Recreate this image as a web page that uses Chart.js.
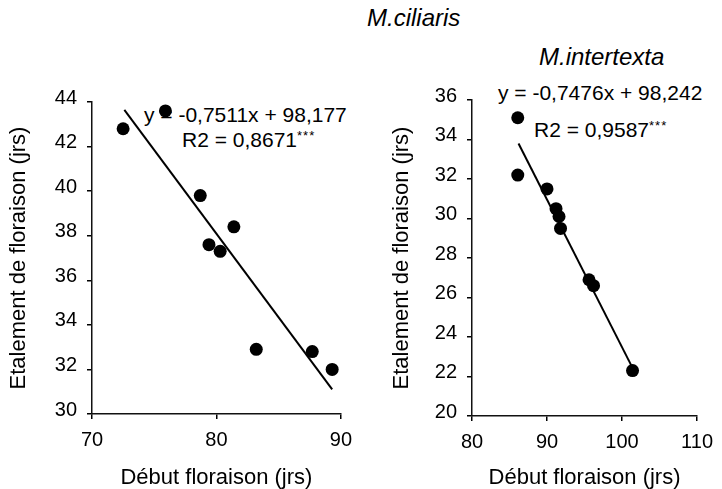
<!DOCTYPE html>
<html>
<head>
<meta charset="utf-8">
<script src="https://cdn.jsdelivr.net/npm/chart.js@4.4.1/dist/chart.umd.min.js"></script>
<style>
  html, body { margin: 0; padding: 0; background: #fff; }
  #wrap { position: relative; width: 722px; height: 489px; overflow: hidden;
          font-family: "Liberation Sans", Arial, sans-serif; color: #000; }
  .txt { position: absolute; white-space: nowrap; line-height: 1; }
  .eq { font-size: 21px; }
  .sp { font-size: 24px; font-style: italic; }
  .stars { font-size: 13px; vertical-align: 7px; letter-spacing: 1px; }
  .box { position: absolute; top: 0; width: 361px; height: 489px; }
</style>
</head>
<body>
<div id="wrap">
  <!-- species titles and regression equations (under the canvases, points may cover them) -->
  <div class="txt sp" style="left:367px; top:6px;">M.ciliaris</div>
  <div class="txt sp" style="left:539px; top:45px;">M.intertexta</div>
  <div class="txt eq" style="left:144px; top:104px;">y = -0,7511x + 98,177</div>
  <div class="txt eq" style="left:182px; top:129px;">R2 = 0,8671<span class="stars">***</span></div>
  <div class="txt eq" style="left:498px; top:82px;">y = -0,7476x + 98,242</div>
  <div class="txt eq" style="left:534px; top:119px;">R2 = 0,9587<span class="stars">***</span></div>

  <div class="box" style="left:0;"><canvas id="chartCiliaris" width="361" height="489"></canvas></div>
  <div class="box" style="left:361px;"><canvas id="chartIntertexta" width="361" height="489"></canvas></div>
</div>

<script>
// M.ciliaris : debut floraison (x) vs etalement (y)
const ciliarisX = [72.5, 75.9, 78.7, 79.4, 80.3, 81.4, 83.2, 87.7, 89.3];
const ciliarisY = [42.8, 43.6, 39.8, 37.6, 37.3, 38.4, 32.9, 32.8, 32.0];
const ciliarisFitX = [72.6, 89.3];
const ciliarisSlope = -0.7511;
const ciliarisIntercept = 98.177;
const ciliarisXTicks = [70, 80, 90];
const ciliarisYTicks = [30, 32, 34, 36, 38, 40, 42, 44];

// M.intertexta
const intertextaX = [86.1, 86.1, 90.0, 91.2, 91.6, 91.8, 95.6, 96.2, 101.4];
const intertextaY = [35.1, 32.2, 31.5, 30.5, 30.1, 29.5, 26.9, 26.6, 22.3];
const intertextaFitX = [86.2, 101.4];
const intertextaSlope = -0.7476;
const intertextaIntercept = 98.242;
const intertextaXTicks = [80, 90, 100, 110];
const intertextaYTicks = [20, 22, 24, 26, 28, 30, 32, 34, 36];

const xTitle = "Début floraison (jrs)";
const yTitle = "Etalement de floraison (jrs)";

Chart.defaults.color = "#000";
Chart.defaults.font.family = '"Liberation Sans", Arial, sans-serif';

function axisStyle() {
  return {
    grid: { display: true, drawOnChartArea: false, drawTicks: true, tickLength: 5, color: "#000", lineWidth: 1.5 },
    border: { display: true, color: "#111", width: 1.5 },
  };
}

function makeChart(id, xs, ys, fitX, slope, intercept, xTicks, yTicks, geo) {
  const points = xs.map((x, i) => ({ x: x, y: ys[i] }));
  const fit = fitX.map((x) => ({ x: x, y: slope * x + intercept }));

  new Chart(document.getElementById(id).getContext("2d"), {
    type: "scatter",
    data: {
      datasets: [
        {
          data: fit,
          showLine: true,
          borderColor: "#000",
          borderWidth: 2,
          pointRadius: 0,
          order: 2,
        },
        {
          data: points,
          backgroundColor: "#000",
          borderWidth: 0,
          pointRadius: 6.5,
          order: 1,
        },
      ],
    },
    options: {
      responsive: false,
      animation: false,
      layout: { padding: { left: 0, right: geo.right, top: geo.top, bottom: 0 } },
      plugins: { legend: { display: false }, tooltip: { enabled: false } },
      scales: {
        x: {
          type: "linear",
          min: xTicks[0],
          max: xTicks[xTicks.length - 1],
          afterBuildTicks: (s) => { s.ticks = xTicks.map((v) => ({ value: v })); },
          afterFit: (s) => { s.height = geo.xHeight; },
          ticks: { font: { size: 20 }, padding: 9, maxRotation: 0 },
          title: { display: true, text: xTitle, font: { size: 22, lineHeight: 1 }, padding: 0 },
          ...axisStyle(),
        },
        y: {
          type: "linear",
          min: yTicks[0],
          max: yTicks[yTicks.length - 1],
          afterBuildTicks: (s) => { s.ticks = yTicks.map((v) => ({ value: v })); },
          afterFit: (s) => { s.width = geo.yWidth; },
          ticks: { font: { size: 20 }, padding: 10, labelOffset: -4 },
          title: { display: true, text: yTitle, font: { size: 22, lineHeight: 1 }, padding: { top: geo.yTitlePad } },
          ...axisStyle(),
        },
      },
    },
  });
}

makeChart("chartCiliaris", ciliarisX, ciliarisY, ciliarisFitX, ciliarisSlope, ciliarisIntercept,
  ciliarisXTicks, ciliarisYTicks, { right: 12, top: 102, xHeight: 75, yWidth: 92, yTitlePad: 8 });

makeChart("chartIntertexta", intertextaX, intertextaY, intertextaFitX, intertextaSlope, intertextaIntercept,
  intertextaXTicks, intertextaYTicks, { right: 22, top: 100, xHeight: 73, yWidth: 111, yTitlePad: 30 });
</script>
</body>
</html>
